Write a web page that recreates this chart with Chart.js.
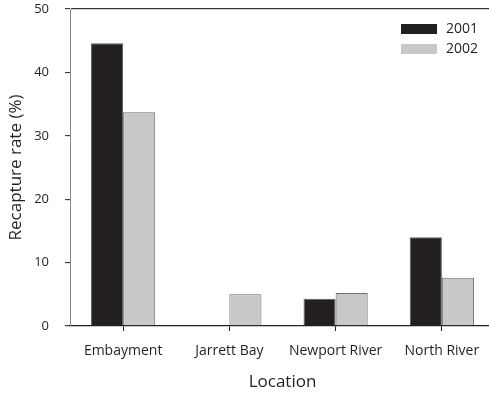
<!DOCTYPE html>
<html>
<head>
<meta charset="utf-8">
<script src="https://cdn.jsdelivr.net/npm/chart.js@4.4.1/dist/chart.umd.min.js"></script>
<style>
  html, body { margin: 0; padding: 0; background: #fff; overflow: hidden; }
  #wrap { width: 496px; height: 393px; }
</style>
</head>
<body>
<div id="wrap"><canvas id="c"></canvas></div>
<script>
// Recapture rates by location and year
const locations = ['Embayment', 'Jarrett Bay', 'Newport River', 'North River'];
const years = ['2001', '2002'];
const rate2001 = [44.6, null, 4.3, 14.0];
const rate2002 = [33.7, 5.0, 5.2, 7.6];
const yTicks = [0, 10, 20, 30, 40, 50];

const FONT = "'Open Sans', 'DejaVu Sans', sans-serif";
const INK = '#231f20';

// Legend drawn inside the top-right corner of the plot area
const innerLegend = {
  id: 'innerLegend',
  afterDraw(chart) {
    const { ctx, chartArea } = chart;
    const x0 = chartArea.right - 94;
    const y0 = chartArea.top + 15;
    ctx.save();
    ctx.font = '14px ' + FONT;
    ctx.textBaseline = 'middle';
    chart.data.datasets.forEach((ds, i) => {
      const y = y0 + i * 20;
      ctx.fillStyle = ds.backgroundColor;
      ctx.fillRect(x0, y, 36, 10);
      ctx.fillStyle = INK;
      ctx.fillText(ds.label, x0 + 45, y + 5);
    });
    ctx.restore();
  }
};

new Chart(document.getElementById('c'), {
  type: 'bar',
  data: {
    labels: locations,
    datasets: [
      { label: years[0], data: rate2001, backgroundColor: '#231f20', borderColor: '#58585a', borderWidth: 1 },
      { label: years[1], data: rate2002, backgroundColor: '#c7c8ca', borderColor: '#6d6e71', borderWidth: 1 }
    ]
  },
  options: {
    responsive: true,
    maintainAspectRatio: false,
    animation: false,
    layout: { padding: { top: 9, right: 1, left: 0, bottom: 0 } },
    datasets: { bar: { categoryPercentage: 0.604, barPercentage: 1.0 } },
    plugins: { legend: { display: false }, tooltip: { enabled: false } },
    scales: {
      x: {
        grid: {
          offset: false,
          drawOnChartArea: false,
          tickColor: INK,
          tickLength: 5,
          tickWidth: 1
        },
        border: { color: INK, width: 1.3 },
        ticks: { color: INK, font: { family: FONT, size: 14 }, padding: 12 },
        title: { display: true, text: 'Location', color: INK, font: { family: FONT, size: 17 }, padding: { top: 10, bottom: 1 } },
        afterFit(scale) { scale.height = 67; scale.paddingLeft = 0; scale.paddingRight = 0; }
      },
      y: {
        min: 0,
        max: 50,
        afterBuildTicks(scale) { scale.ticks = yTicks.map(v => ({ value: v })); },
        grid: {
          color: ctx => (ctx.tick && ctx.tick.value === 50 ? '#333' : 'transparent'),
          lineWidth: 1.3,
          tickColor: INK,
          tickLength: 5,
          tickWidth: 1
        },
        border: { color: '#8a8a8a', width: 1 },
        ticks: { color: INK, font: { family: FONT, size: 13 }, padding: 16 },
        title: { display: true, text: 'Recapture rate (%)', color: INK, font: { family: FONT, size: 17 }, padding: { bottom: 0, top: 6 } },
        afterFit(scale) { scale.width = 70; scale.paddingTop = 0; scale.paddingBottom = 0; }
      }
    }
  },
  plugins: [innerLegend]
});
</script>
</body>
</html>
